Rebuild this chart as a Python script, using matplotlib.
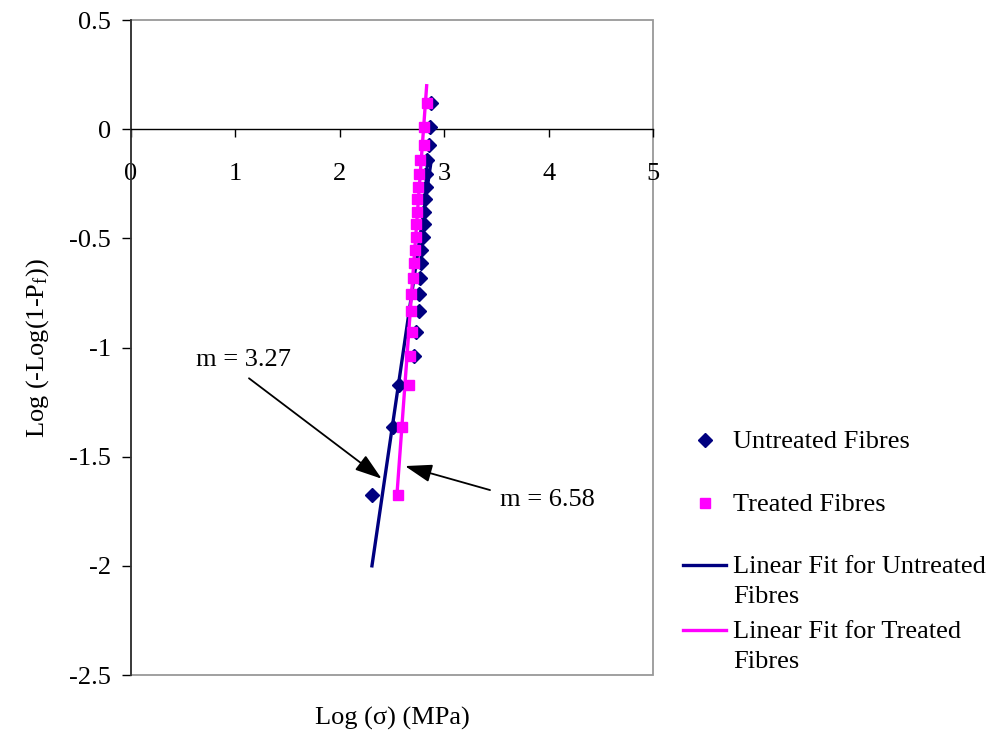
import matplotlib
matplotlib.use("Agg")
import matplotlib.pyplot as plt
from matplotlib.lines import Line2D
from matplotlib.patches import Rectangle

plt.rcParams['font.family'] = ['Liberation Serif', 'DejaVu Serif']
plt.rcParams['mathtext.fontset'] = 'custom'
plt.rcParams['mathtext.rm'] = 'Liberation Serif'
plt.rcParams['mathtext.it'] = 'Liberation Serif:italic'

# ---- data ----
log_pf = [-1.674, -1.362, -1.174, -1.037, -0.928, -0.835, -0.754, -0.681, -0.614, -0.552,
          -0.492, -0.434, -0.378, -0.321, -0.264, -0.205, -0.143, -0.073, 0.009, 0.121]
untreated_x = [2.308, 2.510, 2.567, 2.711, 2.730, 2.754, 2.763, 2.768, 2.773, 2.778,
               2.797, 2.802, 2.807, 2.816, 2.821, 2.826, 2.835, 2.850, 2.864, 2.874]
treated_x = [2.555, 2.596, 2.663, 2.672, 2.692, 2.682, 2.682, 2.701, 2.706, 2.720,
             2.730, 2.734, 2.739, 2.744, 2.749, 2.754, 2.768, 2.811, 2.807, 2.835]

fit_untreated_x = [2.308, 2.870]
fit_untreated_y = [-2.00, -0.162]
fit_treated_x = [2.548, 2.832]
fit_treated_y = [-1.67, 0.199]

x_ticks = [0, 1, 2, 3, 4, 5]
y_ticks = [0.5, 0, -0.5, -1, -1.5, -2, -2.5]
y_tick_labels = ['0.5', '0', '-0.5', '-1', '-1.5', '-2', '-2.5']

legend_labels = ['Untreated Fibres', 'Treated Fibres',
                 'Linear Fit for Untreated\nFibres', 'Linear Fit for Treated\nFibres']

NAVY = '#000080'
MAGENTA = '#FF00FF'
FS = 19

fig = plt.figure(figsize=(9.99, 7.40), dpi=100)
W, H = 999, 740
ax = fig.add_axes([131 / W, 1 - 675 / H, (653 - 131) / W, (675 - 20) / H])

ax.set_xlim(0, 5)
ax.set_ylim(-2.5, 0.5)

# fit lines
ax.plot(fit_untreated_x, fit_untreated_y, color=NAVY, lw=2.4, zorder=3)
ax.plot(fit_treated_x, fit_treated_y, color=MAGENTA, lw=2.4, zorder=3)
# points
ax.plot(untreated_x, log_pf, linestyle='none', marker='D', markersize=7,
        color=NAVY, zorder=4)
ax.plot(treated_x, log_pf, linestyle='none', marker='s', markersize=7.5,
        color=MAGENTA, zorder=5)

# spines / frame
for s in ['top', 'right']:
    ax.spines[s].set_visible(False)
ax.spines['bottom'].set_position(('data', 0))
ax.spines['bottom'].set_color('black')
ax.spines['bottom'].set_linewidth(1.0)
ax.spines['left'].set_color('#333333')
ax.spines['left'].set_linewidth(1.3)
ax.add_patch(Rectangle((0, 0), 1, 1, transform=ax.transAxes, fill=False,
                       edgecolor='#999999', lw=1.3, zorder=0, clip_on=False))

ax.set_xticks(x_ticks)
ax.set_xticklabels([str(v) for v in x_ticks])
ax.set_yticks(y_ticks)
ax.set_yticklabels(y_tick_labels)
ax.tick_params(axis='x', direction='out', length=6, width=1, pad=18, labelsize=FS)
ax.tick_params(axis='y', direction='out', length=6.5, width=1, pad=8, labelsize=FS)

# axis labels
fig.text(392 / W, 1 - 718 / H, 'Log (σ) (MPa)', ha='center', va='center', fontsize=FS)
fig.text(38 / W, 1 - 348 / H, 'Log (-Log(1-P$_{\\mathrm{f}}$))', ha='center', va='center',
         rotation=90, fontsize=FS)

# annotations
arrow_style = dict(arrowstyle='-|>,head_length=0.75,head_width=0.25',
                   color='black', lw=1.3, mutation_scale=22, shrinkA=0, shrinkB=0)
ax.annotate('', xy=(2.401, -1.601), xytext=(1.130, -1.141), arrowprops=arrow_style)
ax.text(0.62, -1.057, 'm = 3.27', ha='left', va='center', fontsize=FS)
ax.annotate('', xy=(2.625, -1.543), xytext=(3.439, -1.653), arrowprops=arrow_style)
ax.text(3.534, -1.699, 'm = 6.58', ha='left', va='center', fontsize=FS)

# manual legend (outside the axes, right side)
hx0, hx1, hxc = 683 / W, 726 / W, 704.5 / W
text_x = 733 / W
rows = [440, 503, 565, 630]
fig.add_artist(Line2D([hxc], [1 - rows[0] / H], marker='D', markersize=7,
                      color=NAVY, linestyle='none', transform=fig.transFigure))
fig.add_artist(Line2D([hxc], [1 - rows[1] / H], marker='s', markersize=7.5,
                      color=MAGENTA, linestyle='none', transform=fig.transFigure))
fig.add_artist(Line2D([hx0, hx1], [1 - rows[2] / H] * 2, color=NAVY, lw=2.4,
                      transform=fig.transFigure))
fig.add_artist(Line2D([hx0, hx1], [1 - rows[3] / H] * 2, color=MAGENTA, lw=2.4,
                      transform=fig.transFigure))
for lab, r in zip(legend_labels, rows):
    fig.text(text_x, 1 - (r - 9) / H, lab, ha='left', va='top', fontsize=FS,
             linespacing=1.45)

fig.savefig('out.png', dpi=100)
